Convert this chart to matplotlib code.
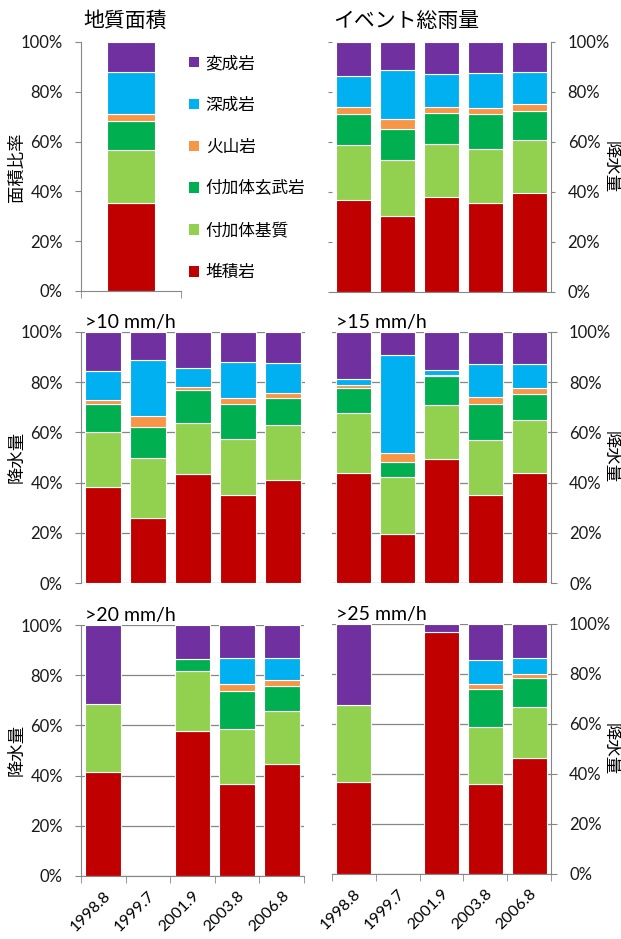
import numpy as np
import matplotlib
matplotlib.use("Agg")
import matplotlib.pyplot as plt
from matplotlib.patches import Patch

plt.rcParams['font.family'] = ['Lato', 'Noto Sans CJK JP']

events = ['1998.8', '1999.7', '2001.9', '2003.8', '2006.8']
rocks = ['堆積岩', '付加体基質', '付加体玄武岩', '火山岩', '深成岩', '変成岩']
rock_colors = ['#C00000', '#92D050', '#00B050', '#F79646', '#00B0F0', '#7030A0']
nan = np.nan

# share of catchment area by geology (%)
area_share = [35.2, 21.4, 11.8, 2.8, 16.7, 12.1]

# share of rainfall by geology (%): rows = rock type, columns = event
rain_total = [
    [37.0, 30.5, 38.2, 35.5, 39.8],
    [21.8, 22.3, 21.0, 21.8, 21.1],
    [12.3, 12.2, 12.5, 13.8, 11.4],
    [2.8, 4.1, 2.2, 2.4, 2.7],
    [12.4, 19.5, 13.1, 14.1, 13.0],
    [13.7, 11.4, 13.0, 12.4, 12.0],
]
rain_10 = [
    [38.3, 25.8, 43.4, 35.0, 41.0],
    [21.9, 23.9, 20.4, 22.3, 21.9],
    [11.2, 12.4, 13.1, 14.1, 10.8],
    [1.7, 4.4, 1.2, 2.3, 2.0],
    [11.5, 22.3, 7.5, 14.5, 11.9],
    [15.4, 11.2, 14.4, 11.8, 12.4],
]
rain_15 = [
    [43.7, 19.4, 49.3, 35.1, 43.7],
    [23.9, 22.7, 21.6, 21.7, 21.1],
    [10.2, 6.0, 11.7, 14.5, 10.4],
    [1.0, 3.6, 0.3, 2.7, 2.6],
    [2.3, 39.1, 2.0, 13.1, 9.3],
    [18.9, 9.2, 15.1, 12.9, 12.9],
]
rain_20 = [
    [41.4, nan, 57.6, 36.5, 44.6],
    [27.1, nan, 24.1, 22.2, 21.0],
    [0.0, nan, 4.6, 15.1, 10.2],
    [0.0, nan, 0.0, 2.6, 2.3],
    [0.0, nan, 0.0, 10.3, 8.6],
    [31.5, nan, 13.7, 13.3, 13.3],
]
rain_25 = [
    [36.9, nan, 96.8, 36.0, 46.3],
    [30.7, nan, 0.0, 23.0, 20.7],
    [0.0, nan, 0.0, 15.0, 11.4],
    [0.0, nan, 0.0, 2.2, 1.5],
    [0.0, nan, 0.0, 9.3, 6.4],
    [32.4, nan, 3.2, 14.5, 13.7],
]

W, H = 621, 939
GRAY = '#868686'


def box(x0, y0, x1, y1):
    return [x0 / W, 1 - y1 / H, (x1 - x0) / W, (y1 - y0) / H]


def stack(ax, x, table, width):
    table = np.asarray(table, dtype=float)
    bottom = np.zeros(table.shape[1])
    for vals, color in zip(table, rock_colors):
        h = np.where(vals > 0, vals, np.nan)
        ax.bar(x, h, width, bottom=bottom, color=color,
               edgecolor='white', linewidth=0.8, zorder=2)
        bottom = bottom + np.nan_to_num(vals)


def style(ax, side, grid=True, xspine=False, labels=False):
    ax.set_ylim(0, 100)
    ax.set_yticks(range(0, 101, 20))
    ax.set_yticklabels([f'{v}%' for v in range(0, 101, 20)])
    ax.spines['top'].set_visible(False)
    keep = 'left' if side == 'left' else 'right'
    drop = 'right' if side == 'left' else 'left'
    ax.spines[drop].set_visible(False)
    ax.spines[keep].set_color(GRAY)
    ax.spines['bottom'].set_color(GRAY)
    ax.spines['bottom'].set_visible(xspine)
    if side == 'right':
        ax.yaxis.tick_right()
    ax.tick_params(axis='y', direction='out', length=4, color=GRAY,
                   pad=9, labelsize=12, labelcolor='#1a1a1a')
    if grid:
        ax.grid(axis='y', color=GRAY, linewidth=0.9, zorder=0)
    ax.set_axisbelow(True)
    if xspine:
        n = len(events) if labels else 1
        ax.set_xticks(np.arange(-0.5, n, 1), minor=True)
        ax.tick_params(axis='x', which='minor', direction='out',
                       length=5, color=GRAY)
        if labels:
            ax.set_xticks(range(len(events)))
            ax.set_xticklabels(events, rotation=45, ha='right',
                               rotation_mode='anchor', fontsize=11.5)
            ax.tick_params(axis='x', which='major', length=0, pad=9)
        else:
            ax.set_xticks([])
    else:
        ax.set_xticks([])


fig = plt.figure(figsize=(W / 100, H / 100), dpi=100)
x = np.arange(len(events))

# geology area
ax_a = fig.add_axes(box(81, 42, 181, 291))
stack(ax_a, [0], np.asarray(area_share)[:, None], 0.48)
ax_a.set_xlim(-0.5, 0.5)
style(ax_a, 'left', grid=False, xspine=True)

# whole-event rainfall: no gridlines, short ticks left of the bars
ax_b = fig.add_axes(box(332, 42, 551, 292))
stack(ax_b, x, rain_total, 0.8)
ax_b.set_xlim(-0.5, len(events) - 0.5)
style(ax_b, 'right', grid=False)
ax_b.spines['bottom'].set_visible(True)
ax_b.spines['bottom'].set_color(GRAY)
ax_b.tick_params(axis='y', left=True, length=3)
ax_b.tick_params(axis='y', which='major', right=True)

panels = [
    (box(81, 332, 305, 583), rain_10, 'left', False, '>10 mm/h'),
    (box(332, 332, 551, 583), rain_15, 'right', False, '>15 mm/h'),
    (box(81, 625, 304, 876), rain_20, 'left', True, '>20 mm/h'),
    (box(332, 624, 551, 874), rain_25, 'right', True, '>25 mm/h'),
]
for rect, table, side, bottom_row, tag in panels:
    ax = fig.add_axes(rect)
    stack(ax, x, table, 0.8)
    ax.set_xlim(-0.5, len(events) - 0.5)
    style(ax, side, grid=True, xspine=bottom_row, labels=bottom_row)
    ax.text(0.02, 1.005, tag, transform=ax.transAxes, fontsize=14,
            ha='left', va='bottom')

fig.text(83 / W, 1 - 21 / H, '地質面積', fontsize=15, va='center')
fig.text(333 / W, 1 - 21 / H, 'イベント総雨量', fontsize=15, va='center')

fig.text(17 / W, 1 - 167 / H, '面積比率', rotation=90, fontsize=12.5,
         ha='center', va='center')
for yc in (457, 750):
    fig.text(17 / W, 1 - yc / H, '降水量', rotation=90, fontsize=12.5,
             ha='center', va='center')
for yc in (167, 457, 749):
    fig.text(611 / W, 1 - yc / H, '降水量', rotation=270, fontsize=12.5,
             ha='center', va='center')

handles = [Patch(facecolor=c, edgecolor='none') for c in rock_colors[::-1]]
fig.legend(handles, rocks[::-1], loc='upper left',
           bbox_to_anchor=(189 / W, 1 - 55 / H), frameon=False, fontsize=12,
           handlelength=0.6, handleheight=0.6, handletextpad=0.4,
           labelspacing=1.55, borderpad=0, borderaxespad=0)

fig.savefig('out.png', dpi=100)
